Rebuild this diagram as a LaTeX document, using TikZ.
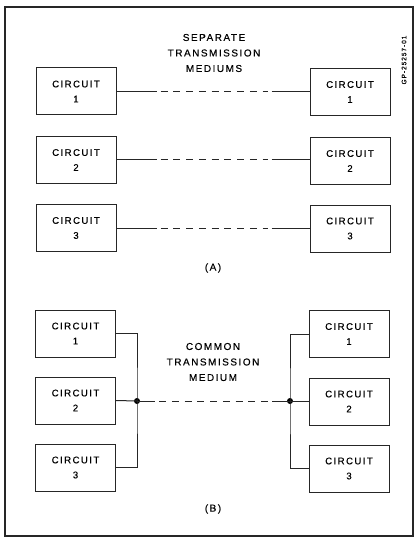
\documentclass[tikz,border=0pt]{standalone}
\usepackage{fontspec}
\setmainfont{Liberation Sans}[LetterSpace=15,FakeBold=0.25]
\begin{document}
\begin{tikzpicture}[x=1pt,y=-1pt,
  cbox/.style={draw=black!85,line width=1pt,minimum width=80pt,minimum height=47pt,align=center,font=\fontsize{9.6}{15}\selectfont,inner sep=0pt},
  wire/.style={draw=black!85,line width=1pt},
  dash wire/.style={wire,dash pattern=on 7pt off 5.75pt},
  lbl/.style={align=center,font=\fontsize{10}{15.5}\selectfont,inner sep=0pt},
  junct/.style={circle,fill=black,inner sep=0pt,minimum size=6pt}]
\useasboundingbox (0,0) rectangle (416,537);
\draw[line width=1.8pt,draw=black!85] (5,7) rectangle (413,536);
\node[rotate=90,font=\fontsize{6.5}{7}\selectfont] (gp) at (404,60) {GP-25257-01};
% (A)
\node[lbl] (t1) at (214,53) {SEPARATE\\TRANSMISSION\\MEDIUMS};
\node[cbox] (l1) at (76,91.5) {CIRCUIT\\1};
\node[cbox] (l2) at (76,160) {CIRCUIT\\2};
\node[cbox] (l3) at (76,228) {CIRCUIT\\3};
\node[cbox] (r1) at (350,92) {CIRCUIT\\1};
\node[cbox] (r2) at (350,161) {CIRCUIT\\2};
\node[cbox] (r3) at (350,228.5) {CIRCUIT\\3};
\foreach \i in {1,2,3}{
  \coordinate (a\i) at ([xshift=40pt]l\i.east);
  \coordinate (b\i) at ([xshift=-38pt]r\i.west |- l\i.east);
  \draw[wire] (l\i.east) -- (a\i);
  \draw[dash wire] ([xshift=4pt]a\i) -- ([xshift=-4pt]b\i);
  \draw[wire] (b\i) -- (b\i -| r\i.west);
}
\node[lbl] (capA) at (213,268) {(A)};
% (B)
\node[cbox] (bl1) at (75.5,333.5) {CIRCUIT\\1};
\node[cbox] (bl2) at (75.5,400.5) {CIRCUIT\\2};
\node[cbox] (bl3) at (75.5,467.5) {CIRCUIT\\3};
\node[cbox] (br1) at (349,334) {CIRCUIT\\1};
\node[cbox] (br2) at (349,401.5) {CIRCUIT\\2};
\node[cbox] (br3) at (349,468.5) {CIRCUIT\\3};
\node[junct] (jl) at (137,401) {};
\node[junct] (jr) at (290,401) {};
\draw[wire] (bl1.east) -| (jl.center) |- (bl3.east);
\draw[wire] (bl2.east) -- (jl.center);
\draw[wire] (br1.west) -| (jr.center) |- (br3.west);
\draw[wire] (br2.west |- jr) -- (jr.center);
\coordinate (c1) at (155,401);
\coordinate (c2) at (272,401);
\draw[wire] (jl.center) -- (c1);
\draw[dash wire] ([xshift=4pt]c1) -- ([xshift=-4pt]c2);
\draw[wire] (c2) -- (jr.center);
\node[lbl] (t2) at (213,362) {COMMON\\TRANSMISSION\\MEDIUM};
\node[lbl] (capB) at (213,509) {(B)};
\end{tikzpicture}
\end{document}
